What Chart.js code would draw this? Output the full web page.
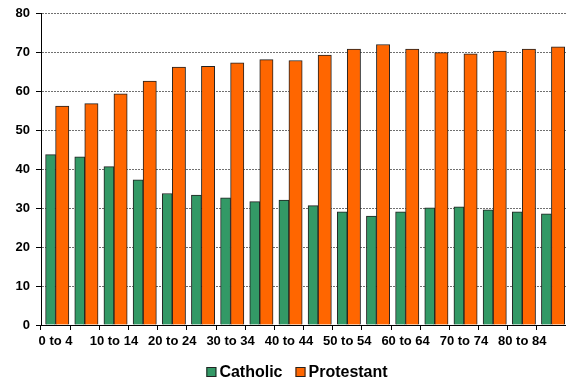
<!DOCTYPE html>
<html>
<head>
<meta charset="utf-8">
<script src="https://cdn.jsdelivr.net/npm/chart.js@4/dist/chart.umd.min.js"></script>
<style>
  html, body { margin: 0; padding: 0; background: #fff; overflow: hidden; }
  canvas { display: block; }
</style>
</head>
<body>
<canvas id="chart" width="566" height="383"></canvas>
<script>
// Age groups along the horizontal axis
const categories = ['0 to 4', '5 to 9', '10 to 14', '15 to 19', '20 to 24', '25 to 29',
  '30 to 34', '35 to 39', '40 to 44', '45 to 49', '50 to 54', '55 to 59',
  '60 to 64', '65 to 69', '70 to 74', '75 to 79', '80 to 84', '85 to 89'];

// Share of each age group (%)
const catholic = [43.8, 43.2, 40.7, 37.3, 33.8, 33.4, 32.7, 31.7, 32.1, 30.7, 29.1, 28.0,
  29.1, 30.1, 30.4, 29.6, 29.1, 28.6];
const protestant = [56.3, 56.9, 59.4, 62.7, 66.3, 66.5, 67.4, 68.2, 68.0, 69.4, 70.9, 72.1,
  70.9, 70.0, 69.7, 70.4, 70.9, 71.5];

// Value axis ticks
const yTicks = [0, 10, 20, 30, 40, 50, 60, 70, 80];

const FONT = '"Liberation Sans", Arial, sans-serif';

// Key drawn below the axis: small bordered squares followed by bold names
const seriesKey = {
  id: 'seriesKey',
  afterDraw(chart) {
    const ctx = chart.ctx;
    const box = 10, textGap = 3, itemGap = 13, cy = 372;
    ctx.save();
    ctx.font = 'bold 16px ' + FONT;
    const items = chart.data.datasets.map(ds => ({
      label: ds.label,
      color: ds.backgroundColor,
      w: box + textGap + ctx.measureText(ds.label).width
    }));
    const total = items.reduce((s, it) => s + it.w, 0) + itemGap * (items.length - 1);
    let x = 297 - total / 2;
    ctx.textBaseline = 'middle';
    ctx.textAlign = 'left';
    items.forEach(it => {
      ctx.fillStyle = it.color;
      ctx.fillRect(x, cy - box / 2, box, box);
      ctx.strokeStyle = '#222';
      ctx.lineWidth = 1;
      ctx.strokeRect(x + 0.5, cy - box / 2 + 0.5, box - 1, box - 1);
      ctx.fillStyle = '#000';
      ctx.fillText(it.label, x + box + textGap, cy + 1);
      x += it.w + itemGap;
    });
    ctx.restore();
  }
};

new Chart(document.getElementById('chart'), {
  type: 'bar',
  data: {
    labels: categories,
    datasets: [
      {
        label: 'Catholic',
        data: catholic,
        backgroundColor: '#339966',
        borderColor: '#222',
        borderWidth: 1,
        barThickness: 10
      },
      {
        label: 'Protestant',
        data: protestant,
        backgroundColor: '#FF6600',
        borderColor: '#222',
        borderWidth: 1,
        barThickness: 13.3
      }
    ]
  },
  options: {
    responsive: false,
    animation: false,
    devicePixelRatio: 1,
    layout: { padding: { top: 12, right: -2, bottom: 36, left: 0 } },
    plugins: {
      legend: { display: false },
      tooltip: { enabled: false }
    },
    scales: {
      x: {
        offset: true,
        afterFit(scale) { scale.height = 22; },
        grid: {
          offset: true,
          drawOnChartArea: false,
          drawTicks: true,
          tickLength: 5,
          tickColor: '#000'
        },
        border: { display: true, color: '#000', width: 1 },
        ticks: {
          autoSkip: false,
          maxRotation: 0,
          minRotation: 0,
          padding: 4,
          color: '#000',
          font: { family: FONT, size: 13, weight: 'bold' },
          callback(value, index) { return index % 2 === 0 ? categories[index] : ''; }
        }
      },
      y: {
        min: yTicks[0],
        max: yTicks[yTicks.length - 1],
        afterFit(scale) { scale.width = 41; },
        afterBuildTicks(scale) { scale.ticks = yTicks.map(v => ({ value: v })); },
        grid: {
          color: '#707070',
          lineWidth: 1,
          tickLength: 5,
          tickColor: '#000'
        },
        border: { display: true, color: '#000', width: 1, dash: [2, 1] },
        ticks: {
          padding: 6,
          color: '#000',
          font: { family: FONT, size: 13, weight: 'bold' }
        }
      }
    }
  },
  plugins: [seriesKey]
});
</script>
</body>
</html>
